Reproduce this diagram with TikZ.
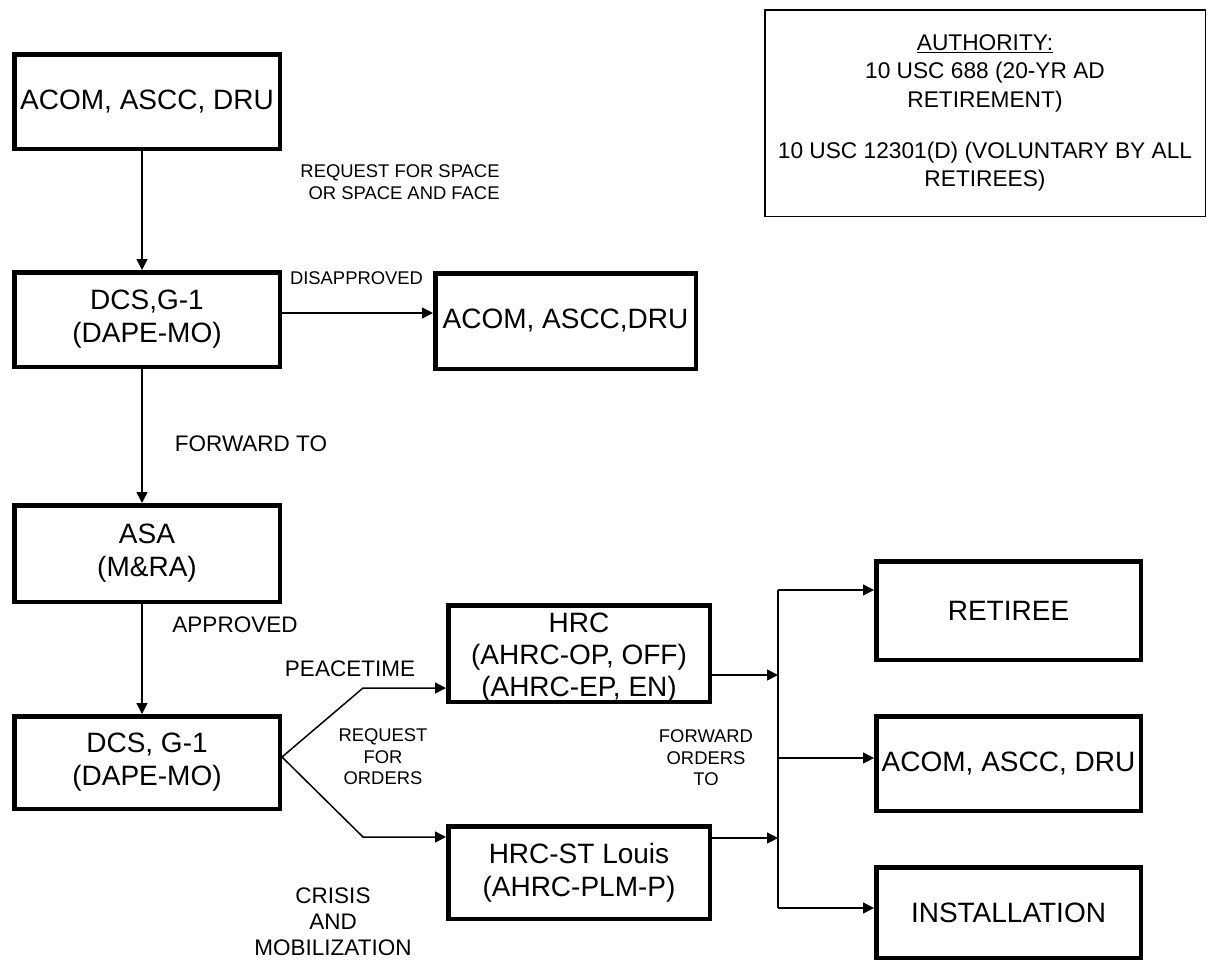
\documentclass[tikz,border=0pt]{standalone}
\usepackage{fontspec}
\setmainfont{Liberation Sans}
\usepackage{tikz}
\usetikzlibrary{arrows.meta}

\begin{document}
\begin{tikzpicture}[x=1pt, y=-1pt,
        every node/.style={inner sep=0pt, align=center},
        office/.style={draw, line width=4.5pt, minimum width=265.5pt,
                       font=\fontsize{28}{33}\selectfont},
        note/.style={font=\fontsize{18.4}{21.5}\selectfont},
        tag/.style={font=\fontsize{22.5}{26}\selectfont},
        link/.style={line width=1.5pt, -{Triangle[length=11pt,width=11pt]}},
        wire/.style={line width=1.5pt}]
      \useasboundingbox (0,0) rectangle (1209,962);
      % left column
      \node[office, minimum height=94.5pt] (cmd) at (147,101.5) {ACOM, ASCC, DRU};
      \node[office, minimum height=94.5pt] (g1a) at (147,319.5) {DCS,G-1\\(DAPE-MO)};
      \node[office, minimum height=96.5pt] (asa) at (147,553.5) {ASA\\(M\&RA)};
      \node[office, minimum height=92.5pt] (g1b) at (147,762.5) {DCS, G-1\\(DAPE-MO)};
      \node[office, minimum width=260.5pt, minimum height=95.5pt] (dis) at (565.5,321) {ACOM, ASCC,DRU};
      % orders offices
      \node[office, minimum width=261.5pt, minimum height=96.5pt] (hrc) at (579,653.5) {};
      \node[font=\fontsize{28}{32}\selectfont] (hrctext) at (579,658)
            {HRC\\(AHRC-OP, OFF)\\(AHRC-EP, EN)};
      \node[office, minimum width=261.5pt, minimum height=92.5pt] (stl) at (579,872.5)
            {HRC-ST Louis\\(AHRC-PLM-P)};
      % receivers
      \node[office, minimum width=264.5pt, minimum height=98.5pt] (ret)  at (1008.5,610.5) {RETIREE};
      \node[office, minimum width=264.5pt, minimum height=94.5pt] (acom) at (1008.5,763.5) {ACOM, ASCC, DRU};
      \node[office, minimum width=264.5pt, minimum height=90.5pt] (inst) at (1008.5,912.5) {INSTALLATION};
      % authority
      \node[draw, line width=1.5pt, minimum width=440.5pt, minimum height=206.5pt,
            font=\fontsize{22.7}{28.5}\selectfont] (auth) at (985,113)
            {\underline{AUTHORITY:}\\10 USC 688 (20-YR AD\\RETIREMENT)\\[22.5pt]
             10 USC 12301(D) (VOLUNTARY BY ALL\\RETIREES)};
      % labels
      \node[note, align=right] (reqspace) at (400,182) {REQUEST FOR SPACE\\OR SPACE AND FACE};
      \node[note] (disapp) at (356.5,278) {DISAPPROVED};
      \node[tag] (fwd) at (251,444) {FORWARD TO};
      \node[tag] (appr) at (235,625) {APPROVED};
      \node[tag] (peace) at (350,669) {PEACETIME};
      \node[note] (reqord) at (383,757) {REQUEST\\FOR\\ORDERS};
      \node[note] (fwdord) at (706,758) {FORWARD\\ORDERS\\TO};
      \node[tag] (crisis) at (333,922) {CRISIS\\AND\\MOBILIZATION};
      % connectors
      \coordinate (up) at (363,688);
      \coordinate (dn) at (363,837);
      \coordinate (hin) at (778,675);
      \coordinate (sin) at (778,838);
      \coordinate (bustop) at (778,590);
      \coordinate (busmid) at (778,758);
      \coordinate (busbot) at (778,908);
      \draw[link] ([xshift=-5pt]cmd.south) -- ([xshift=-5pt]g1a.north);
      \draw[link] ([yshift=6.5pt]g1a.east) -- ([yshift=6.5pt]g1a.east -| dis.west);
      \draw[link] ([xshift=-5pt]g1a.south) -- ([xshift=-5pt]asa.north);
      \draw[link] ([xshift=-5pt]asa.south) -- ([xshift=-5pt]g1b.north);
      \draw[link] ([yshift=5.5pt]g1b.east) -- (up) -- (up -| hrc.west);
      \draw[link] ([yshift=5.5pt]g1b.east) -- (dn) -- (dn -| stl.west);
      \draw[link] (hrc.east |- hin) -- (hin);
      \draw[link] (stl.east |- sin) -- (sin);
      \draw[wire] (bustop) -- (busbot);
      \draw[link] (bustop) -- (bustop -| ret.west);
      \draw[link] (busmid) -- (busmid -| acom.west);
      \draw[link] (busbot) -- (busbot -| inst.west);
    \end{tikzpicture}
\end{document}
